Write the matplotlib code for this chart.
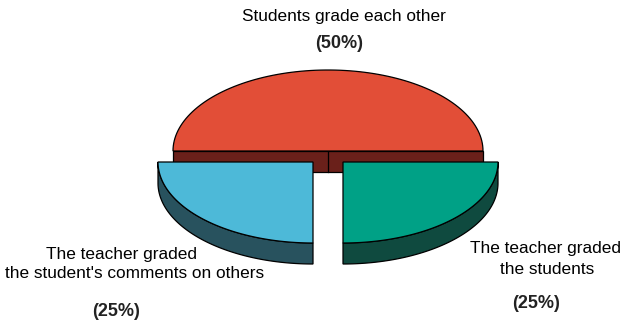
import numpy as np
import matplotlib
matplotlib.use("Agg")
import matplotlib.pyplot as plt
from matplotlib.patches import Polygon, Rectangle

# =========================
# Data
# =========================
labels = ["Students grade each other",
          "The teacher graded\nthe student's comments on others",
          "The teacher graded\nthe students"]
shares = [50, 25, 25]
pct_labels = ["(50%)", "(25%)", "(25%)"]

top_colors = ["#E24E37", "#4DB9D8", "#00A186"]
side_colors = ["#6A201A", "#28525E", "#0F4A3F"]

# layout (pixel coordinates, y down)
centers = [(328, 151), (313, 162), (343, 162)]
RX, RY, DEPTH = 155, 81, 21


def arc(cx, cy, a0, a1, n=100):
    t = np.radians(np.linspace(a0, a1, n))
    return np.column_stack([cx + RX * np.cos(t), cy - RY * np.sin(t)])


def draw_slice(ax, cx, cy, a0, a1, top, side):
    pts = arc(cx, cy, a0, a1)
    # visible outer side: front half of the ellipse (angles 180..360)
    lo, hi = max(a0, 180), min(a1, 360)
    if hi > lo:
        front = arc(cx, cy, lo, hi)
        shifted = front[::-1] + [0, DEPTH]
        ax.add_patch(Polygon(np.vstack([front, shifted]), closed=True,
                             fc=side, ec="black", lw=0.9, zorder=2))
    else:
        # half slice facing viewer with the flat cut face
        x0, x1 = cx - RX, cx + RX
        ax.add_patch(Rectangle((x0, cy), x1 - x0, DEPTH, fc=side,
                               ec="black", lw=0.9, zorder=1))
        ax.plot([cx, cx], [cy, cy + DEPTH], color="black", lw=0.9, zorder=1)
    ax.add_patch(Polygon(np.vstack([[cx, cy], pts]), closed=True,
                         fc=top, ec="black", lw=0.9, zorder=3))


fig = plt.figure(figsize=(6.24, 3.21), dpi=100)
ax = fig.add_axes([0, 0, 1, 1])
ax.set_xlim(0, 624)
ax.set_ylim(321, 0)
ax.axis("off")

start = 0.0
for i, v in enumerate(shares):
    span = v / sum(shares) * 360
    cx, cy = centers[i]
    draw_slice(ax, cx, cy, start, start + span, top_colors[i], side_colors[i])
    start += span

font = "Liberation Sans"
fs = 12.4
bfs = 13

ax.text(344, 16, labels[0], ha="center", va="center", fontsize=fs, family=font)
ax.text(339, 43, pct_labels[0], ha="center", va="center", fontsize=bfs,
        family=font, fontweight="bold", color="#222222")

l1, l2 = labels[1].split("\n")
ax.text(122, 254, l1, ha="center", va="center", fontsize=fs, family=font)
ax.text(135, 273, l2, ha="center", va="center", fontsize=fs, family=font)
ax.text(116, 311, pct_labels[1], ha="center", va="center", fontsize=bfs,
        family=font, fontweight="bold", color="#222222")

r1, r2 = labels[2].split("\n")
ax.text(545, 249, r1, ha="center", va="center", fontsize=fs, family=font)
ax.text(547, 270, r2, ha="center", va="center", fontsize=fs, family=font)
ax.text(536, 303, pct_labels[2], ha="center", va="center", fontsize=bfs,
        family=font, fontweight="bold", color="#222222")

fig.savefig("out.png", dpi=100)
